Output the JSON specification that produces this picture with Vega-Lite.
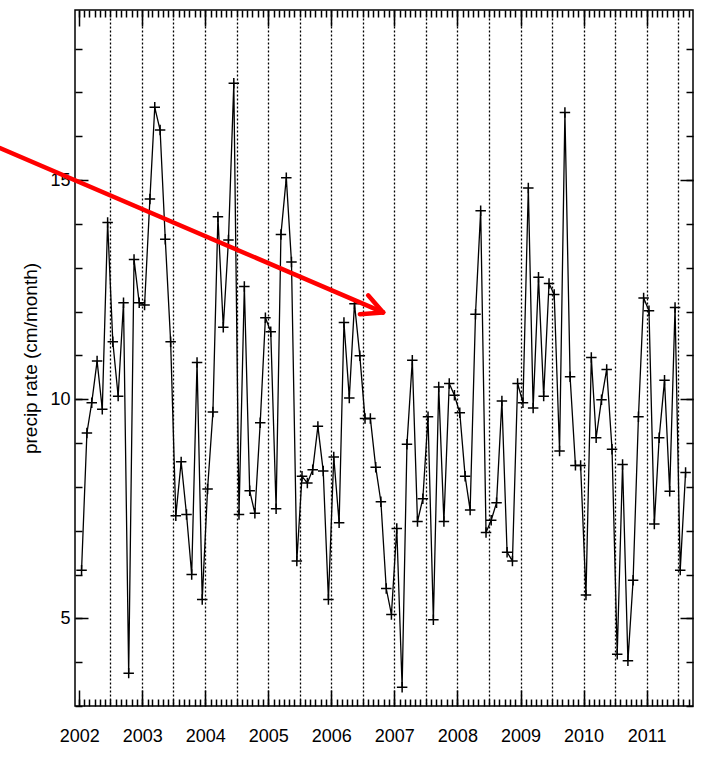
{
  "$schema": "https://vega.github.io/schema/vega-lite/v6.json",
  "width": 618,
  "height": 696,
  "autosize": {"type": "none"},
  "padding": {"left": 75, "top": 10, "right": 8, "bottom": 51},
  "background": "white",
  "config": {
    "view": {"stroke": "black", "strokeWidth": 1.5},
    "font": "Liberation Sans",
    "axis": {"domain": false, "grid": false, "tickColor": "black", "labelColor": "black", "titleColor": "black", "labelFont": "Liberation Sans", "titleFont": "Liberation Sans", "titleFontWeight": "normal", "tickWidth": 1.5, "title": null}
  },
  "datasets": {
    "series": [
      {"date": "2002-01-15", "v": 6.10}, {"date": "2002-02-15", "v": 9.23}, {"date": "2002-03-15", "v": 9.92}, {"date": "2002-04-15", "v": 10.87},
      {"date": "2002-05-15", "v": 9.77}, {"date": "2002-06-15", "v": 14.03}, {"date": "2002-07-15", "v": 11.31}, {"date": "2002-08-15", "v": 10.07},
      {"date": "2002-09-15", "v": 12.2}, {"date": "2002-10-15", "v": 3.75}, {"date": "2002-11-15", "v": 13.19}, {"date": "2002-12-15", "v": 12.2},
      {"date": "2003-01-15", "v": 12.15}, {"date": "2003-02-15", "v": 14.57}, {"date": "2003-03-15", "v": 16.66}, {"date": "2003-04-15", "v": 16.14},
      {"date": "2003-05-15", "v": 13.65}, {"date": "2003-06-15", "v": 11.31}, {"date": "2003-07-15", "v": 7.34}, {"date": "2003-08-15", "v": 8.57},
      {"date": "2003-09-15", "v": 7.37}, {"date": "2003-10-15", "v": 6.0}, {"date": "2003-11-15", "v": 10.84}, {"date": "2003-12-15", "v": 5.43},
      {"date": "2004-01-15", "v": 7.95}, {"date": "2004-02-15", "v": 9.71}, {"date": "2004-03-15", "v": 14.16}, {"date": "2004-04-15", "v": 11.64},
      {"date": "2004-05-15", "v": 13.63}, {"date": "2004-06-15", "v": 17.21}, {"date": "2004-07-15", "v": 7.37}, {"date": "2004-08-15", "v": 12.57},
      {"date": "2004-09-15", "v": 7.91}, {"date": "2004-10-15", "v": 7.4}, {"date": "2004-11-15", "v": 9.46}, {"date": "2004-12-15", "v": 11.86},
      {"date": "2005-01-15", "v": 11.54}, {"date": "2005-02-15", "v": 7.5}, {"date": "2005-03-15", "v": 13.76}, {"date": "2005-04-15", "v": 15.05},
      {"date": "2005-05-15", "v": 13.13}, {"date": "2005-06-15", "v": 6.31}, {"date": "2005-07-15", "v": 8.24}, {"date": "2005-08-15", "v": 8.09},
      {"date": "2005-09-15", "v": 8.39}, {"date": "2005-10-15", "v": 9.38}, {"date": "2005-11-15", "v": 8.36}, {"date": "2005-12-15", "v": 5.43},
      {"date": "2006-01-15", "v": 8.68}, {"date": "2006-02-15", "v": 7.18}, {"date": "2006-03-15", "v": 11.75}, {"date": "2006-04-15", "v": 10.03},
      {"date": "2006-05-15", "v": 12.18}, {"date": "2006-06-15", "v": 10.99}, {"date": "2006-07-15", "v": 9.56}, {"date": "2006-08-15", "v": 9.56},
      {"date": "2006-09-15", "v": 8.45}, {"date": "2006-10-15", "v": 7.66}, {"date": "2006-11-15", "v": 5.68}, {"date": "2006-12-15", "v": 5.09},
      {"date": "2007-01-15", "v": 7.05}, {"date": "2007-02-15", "v": 3.43}, {"date": "2007-03-15", "v": 8.97}, {"date": "2007-04-15", "v": 10.89},
      {"date": "2007-05-15", "v": 7.21}, {"date": "2007-06-15", "v": 7.73}, {"date": "2007-07-15", "v": 9.6}, {"date": "2007-08-15", "v": 4.97},
      {"date": "2007-09-15", "v": 10.28}, {"date": "2007-10-15", "v": 7.21}, {"date": "2007-11-15", "v": 10.36}, {"date": "2007-12-15", "v": 10.09},
      {"date": "2008-01-15", "v": 9.69}, {"date": "2008-02-15", "v": 8.24}, {"date": "2008-03-15", "v": 7.47}, {"date": "2008-04-15", "v": 11.94},
      {"date": "2008-05-15", "v": 14.3}, {"date": "2008-06-15", "v": 6.96}, {"date": "2008-07-15", "v": 7.24}, {"date": "2008-08-15", "v": 7.64},
      {"date": "2008-09-15", "v": 9.96}, {"date": "2008-10-15", "v": 6.51}, {"date": "2008-11-15", "v": 6.31}, {"date": "2008-12-15", "v": 10.36},
      {"date": "2009-01-15", "v": 9.92}, {"date": "2009-02-15", "v": 14.82}, {"date": "2009-03-15", "v": 9.8}, {"date": "2009-04-15", "v": 12.78},
      {"date": "2009-05-15", "v": 10.07}, {"date": "2009-06-15", "v": 12.64}, {"date": "2009-07-15", "v": 12.39}, {"date": "2009-08-15", "v": 8.82},
      {"date": "2009-09-15", "v": 16.54}, {"date": "2009-10-15", "v": 10.51}, {"date": "2009-11-15", "v": 8.49}, {"date": "2009-12-15", "v": 8.49},
      {"date": "2010-01-15", "v": 5.53}, {"date": "2010-02-15", "v": 10.95}, {"date": "2010-03-15", "v": 9.12}, {"date": "2010-04-15", "v": 9.99},
      {"date": "2010-05-15", "v": 10.68}, {"date": "2010-06-15", "v": 8.86}, {"date": "2010-07-15", "v": 4.18}, {"date": "2010-08-15", "v": 8.51},
      {"date": "2010-09-15", "v": 4.03}, {"date": "2010-10-15", "v": 5.87}, {"date": "2010-11-15", "v": 9.6}, {"date": "2010-12-15", "v": 12.31},
      {"date": "2011-01-15", "v": 12.02}, {"date": "2011-02-15", "v": 7.15}, {"date": "2011-03-15", "v": 9.12}, {"date": "2011-04-15", "v": 10.43},
      {"date": "2011-05-15", "v": 7.9}, {"date": "2011-06-15", "v": 12.09}, {"date": "2011-07-15", "v": 6.1}, {"date": "2011-08-15", "v": 8.33}
    ],
    "arrow": [
      {"x0": "2000-09-29", "y0": 15.73, "x1": "2006-10-28", "y1": 11.98},
      {"x0": "2006-08-02", "y0": 12.37, "x1": "2006-10-28", "y1": 11.98},
      {"x0": "2006-06-15", "y0": 11.94, "x1": "2006-10-28", "y1": 11.98}
    ]
  },
  "resolve": {"axis": {"x": "independent", "y": "independent"}},
  "layer": [
    {
      "data": {"name": "series"},
      "mark": {"type": "line", "color": "black", "strokeWidth": 1.3},
      "encoding": {
        "x": {
          "field": "date", "type": "temporal",
          "scale": {"domain": [{"year": 2001, "month": 12, "date": 8}, {"year": 2011, "month": 9, "date": 27}], "nice": false},
          "axis": {
            "orient": "bottom", "ticks": false,
            "tickCount": {"interval": "month", "step": 6},
            "labelExpr": "month(datum.value) == 0 ? timeFormat(datum.value, '%Y') : ''",
            "labelFontSize": 18, "labelPadding": 21, "labelFlush": false, "labelOverlap": false,
            "grid": true, "gridColor": "black", "gridDash": [2, 2], "gridWidth": 1.3,
            "gridOpacity": {"condition": {"test": "datum.value > datetime(2002, 0, 15)", "value": 1}, "value": 0}
          }
        },
        "y": {
          "field": "v", "type": "quantitative",
          "scale": {"domain": [3, 18.88], "nice": false, "zero": false},
          "axis": {
            "orient": "left", "values": [5, 10, 15], "ticks": false, "labelFontSize": 18, "labelPadding": 5,
            "title": "precip rate (cm/month)", "titleFontSize": 19, "titlePadding": 9
          }
        }
      }
    },
    {
      "data": {"name": "series"},
      "mark": {"type": "point", "shape": "M-1,0H1M0,-1V1", "filled": false, "stroke": "black", "strokeWidth": 1.5, "size": 110, "opacity": 1},
      "encoding": {
        "x": {
          "field": "date", "type": "temporal",
          "scale": {"domain": [{"year": 2001, "month": 12, "date": 8}, {"year": 2011, "month": 9, "date": 27}], "nice": false},
          "axis": {
            "orient": "top", "offset": -696, "labels": false, "ticks": true,
            "tickCount": {"interval": "month", "step": 1}, "tickSize": 7
          }
        },
        "y": {
          "field": "v", "type": "quantitative",
          "scale": {"domain": [3, 18.88], "nice": false, "zero": false},
          "axis": {
            "orient": "right", "offset": -618, "labels": false, "ticks": true,
            "values": [3, 4, 5, 6, 7, 8, 9, 10, 11, 12, 13, 14, 15, 16, 17, 18], "tickSize": 7
          }
        }
      }
    },
    {
      "data": {"name": "series"},
      "mark": {"type": "point", "opacity": 0},
      "encoding": {
        "x": {
          "field": "date", "type": "temporal",
          "scale": {"domain": [{"year": 2001, "month": 12, "date": 8}, {"year": 2011, "month": 9, "date": 27}], "nice": false},
          "axis": {
            "orient": "bottom", "offset": -696, "labels": false, "ticks": true,
            "tickCount": {"interval": "month", "step": 1}, "tickSize": 7
          }
        },
        "y": {
          "field": "v", "type": "quantitative",
          "scale": {"domain": [3, 18.88], "nice": false, "zero": false},
          "axis": {
            "orient": "left", "offset": -618, "labels": false, "ticks": true,
            "values": [3, 4, 5, 6, 7, 8, 9, 10, 11, 12, 13, 14, 15, 16, 17, 18], "tickSize": 7
          }
        }
      }
    },
    {
      "data": {"name": "series"},
      "mark": {"type": "point", "opacity": 0},
      "encoding": {
        "x": {
          "field": "date", "type": "temporal",
          "scale": {"domain": [{"year": 2001, "month": 12, "date": 8}, {"year": 2011, "month": 9, "date": 27}], "nice": false},
          "axis": {
            "orient": "bottom", "offset": -696, "labels": false, "ticks": true,
            "tickCount": {"interval": "year", "step": 1}, "tickSize": 16
          }
        },
        "y": {
          "field": "v", "type": "quantitative",
          "scale": {"domain": [3, 18.88], "nice": false, "zero": false},
          "axis": {
            "orient": "left", "offset": -618, "labels": false, "ticks": true,
            "values": [5, 10, 15], "tickSize": 13
          }
        }
      }
    },
    {
      "data": {"name": "arrow"},
      "mark": {"type": "rule", "color": "#ff0000", "strokeWidth": 4.5, "strokeCap": "round"},
      "encoding": {
        "x": {
          "field": "x0", "type": "temporal",
          "scale": {"domain": [{"year": 2001, "month": 12, "date": 8}, {"year": 2011, "month": 9, "date": 27}], "nice": false},
          "axis": {
            "orient": "top", "offset": -696, "labels": false, "ticks": true,
            "tickCount": {"interval": "year", "step": 1}, "tickSize": 16
          }
        },
        "x2": {"field": "x1"},
        "y": {
          "field": "y0", "type": "quantitative",
          "scale": {"domain": [3, 18.88], "nice": false, "zero": false},
          "axis": {
            "orient": "right", "offset": -618, "labels": false, "ticks": true,
            "values": [5, 10, 15], "tickSize": 13
          }
        },
        "y2": {"field": "y1"}
      }
    }
  ]
}
